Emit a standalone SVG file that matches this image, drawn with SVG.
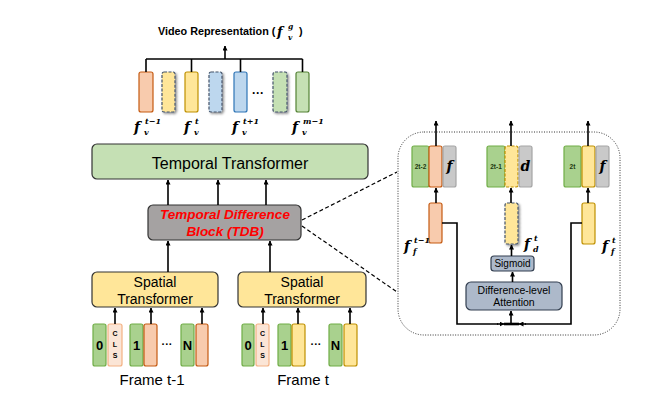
<svg xmlns="http://www.w3.org/2000/svg" width="669" height="403" viewBox="0 0 669 403">
<defs>
<marker id="ah" viewBox="0 0 10 10" refX="9" refY="5" markerWidth="5" markerHeight="5" orient="auto-start-reverse" markerUnits="userSpaceOnUse">
<path d="M0,0 L10,5 L0,10 z" fill="#000"/>
</marker>
<filter id="sh" x="-50%" y="-20%" width="200%" height="140%">
<feDropShadow dx="1.5" dy="1.5" stdDeviation="0.8" flood-color="#000" flood-opacity="0.45"/>
</filter>
<style>
text{font-family:"Liberation Sans",Arial,sans-serif;fill:#000}
.ln{stroke:#000;stroke-width:1.6;fill:none}
.ar{stroke:#000;stroke-width:1.6;fill:none;marker-end:url(#ah)}
.dash{stroke:#000;stroke-width:1.2;fill:none;stroke-dasharray:4 2.5}
.or{fill:#f8cbad;stroke:#c55a11;stroke-width:1.2}
.ye{fill:#ffe699;stroke:#bf9000;stroke-width:1.2}
.bl{fill:#bdd7ee;stroke:#2e75b6;stroke-width:1.2}
.gr{fill:#c5e0b4;stroke:#548235;stroke-width:1.2}
.gt{fill:#a9d18e;stroke:#70ad47;stroke-width:1.2}
.gy{fill:#c9c9c9;stroke:#a5a5a5;stroke-width:1.2}
.cls{fill:#fbe5d6;stroke:#f4b183;stroke-width:1.2}
.dsh{stroke:#44546a;stroke-dasharray:3 1.5;filter:url(#sh)}
.fm{font-family:"DejaVu Serif","Liberation Serif",serif;font-weight:bold;font-style:italic}
.tok{font-weight:bold;font-size:13px;text-anchor:middle}
.cl{font-weight:bold;font-size:7px;text-anchor:middle}
.sm{font-weight:bold;font-size:6.5px;text-anchor:middle;fill:#1e3a10}
</style>
</defs>
<rect width="669" height="403" fill="#fff"/>

<g id="title">
<text x="158" y="35" font-size="10.8" font-weight="bold">Video Representation (</text>
<text class="fm" x="277" y="36" font-size="13">f</text>
<text class="fm" x="288" y="29" font-size="7.5">g</text>
<text class="fm" x="288" y="39.5" font-size="7.5">v</text>
<text x="299" y="35" font-size="10.8" font-weight="bold">)</text>
</g>

<g id="video-features">
<rect class="or" x="139" y="72" width="14" height="40" rx="2"/>
<rect class="ye dsh" x="162" y="72" width="13" height="40" rx="2"/>
<rect class="ye" x="185" y="72" width="13" height="40" rx="2"/>
<rect class="bl dsh" x="209" y="72" width="13" height="40" rx="2"/>
<rect class="bl" x="234" y="72" width="13" height="40" rx="2"/>
<text x="258" y="97" font-size="12" text-anchor="middle" font-weight="bold">···</text>
<rect class="gr dsh" x="273" y="72" width="14" height="40" rx="2"/>
<rect class="gr" x="296" y="72" width="13" height="40" rx="2"/>
</g>

<g id="video-labels">
<text class="fm" x="134" y="132" font-size="14">f</text>
<text class="fm" x="145" y="124" font-size="8">t−1</text>
<text class="fm" x="144" y="135" font-size="8">v</text>
<text class="fm" x="184" y="132" font-size="14">f</text>
<text class="fm" x="195" y="124" font-size="8">t</text>
<text class="fm" x="194" y="135" font-size="8">v</text>
<text class="fm" x="232" y="132" font-size="14">f</text>
<text class="fm" x="243" y="124" font-size="8">t+1</text>
<text class="fm" x="242" y="135" font-size="8">v</text>
<text class="fm" x="292" y="132" font-size="14">f</text>
<text class="fm" x="303" y="124" font-size="8">m−1</text>
<text class="fm" x="302" y="135" font-size="8">v</text>
</g>

<g id="temporal-transformer">
<rect x="92" y="144" width="276" height="35" rx="5" fill="#c5e0b4" stroke="#333" stroke-width="1.2"/>
<text x="230" y="169" font-size="16" text-anchor="middle">Temporal Transformer</text>
</g>

<g id="tdb">
<rect x="148" y="205" width="153" height="35" rx="5" fill="#a5a2a2" stroke="#333" stroke-width="1.2"/>
<text x="225" y="219" font-size="13.5" font-weight="bold" font-style="italic" text-anchor="middle" style="fill:#ff0000">Temporal Difference</text>
<text x="225" y="235.5" font-size="13.5" font-weight="bold" font-style="italic" text-anchor="middle" style="fill:#ff0000">Block (TDB)</text>
</g>

<g id="spatial-left">
<rect x="92" y="272" width="126" height="35" rx="5" fill="#ffe699" stroke="#333" stroke-width="1.2"/>
<text x="155" y="287" font-size="14" text-anchor="middle">Spatial</text>
<text x="155" y="304" font-size="14" text-anchor="middle">Transformer</text>
</g>
<g id="spatial-right">
<rect x="238" y="272" width="128" height="35" rx="5" fill="#ffe699" stroke="#333" stroke-width="1.2"/>
<text x="302" y="287" font-size="14" text-anchor="middle">Spatial</text>
<text x="302" y="304" font-size="14" text-anchor="middle">Transformer</text>
</g>

<g id="frame-t-1">
<rect class="gt" x="93" y="324" width="13" height="42" rx="2"/>
<text class="tok" x="99.5" y="350">0</text>
<rect class="cls" x="108" y="324" width="14" height="42" rx="2"/>
<text class="cl" x="115" y="336">C</text>
<text class="cl" x="115" y="347">L</text>
<text class="cl" x="115" y="358">S</text>
<rect class="gt" x="130" y="324" width="13" height="42" rx="2"/>
<text class="tok" x="136.5" y="350">1</text>
<rect class="or" x="144" y="324" width="13" height="42" rx="2"/>
<text x="167" y="348" font-size="11" text-anchor="middle" font-weight="bold">···</text>
<rect class="gt" x="181" y="324" width="13" height="42" rx="2"/>
<text class="tok" x="187.5" y="350">N</text>
<rect class="or" x="196" y="324" width="12" height="42" rx="2"/>
<text x="152" y="385" font-size="15" text-anchor="middle">Frame t-1</text>
</g>

<g id="frame-t">
<rect class="gt" x="242" y="324" width="12" height="42" rx="2"/>
<text class="tok" x="248" y="350">0</text>
<rect class="cls" x="256" y="324" width="13" height="42" rx="2"/>
<text class="cl" x="262.5" y="336">C</text>
<text class="cl" x="262.5" y="347">L</text>
<text class="cl" x="262.5" y="358">S</text>
<rect class="gt" x="278" y="324" width="13" height="42" rx="2"/>
<text class="tok" x="284.5" y="350">1</text>
<rect class="ye" x="292" y="324" width="13" height="42" rx="2"/>
<text x="316" y="348" font-size="11" text-anchor="middle" font-weight="bold">···</text>
<rect class="gt" x="329" y="324" width="13" height="42" rx="2"/>
<text class="tok" x="335.5" y="350">N</text>
<rect class="ye" x="344" y="324" width="13" height="42" rx="2"/>
<text x="303" y="385" font-size="15" text-anchor="middle">Frame t</text>
</g>

<g id="tdb-panel">
<rect x="398" y="132" width="222" height="203" rx="26" fill="none" stroke="#333" stroke-width="1" stroke-dasharray="1 1.5"/>
</g>

<g id="out-group-1">
<rect class="gt" x="412" y="146" width="17" height="41" rx="2"/>
<text class="sm" x="420.5" y="169">2t-2</text>
<rect class="or" x="429" y="146" width="13" height="41" rx="2"/>
<rect class="gy" x="443" y="146" width="13" height="41" rx="2"/>
<text class="fm" x="449.5" y="171" font-size="14" text-anchor="middle">f</text>
</g>
<g id="out-group-2">
<rect class="gt" x="487" y="146" width="18" height="41" rx="2"/>
<text class="sm" x="496" y="169">2t-1</text>
<rect class="ye" x="505" y="146" width="13" height="41" rx="2" stroke-dasharray="3 1.5"/>
<rect class="gy" x="519" y="146" width="13" height="41" rx="2"/>
<text class="fm" x="525.5" y="171" font-size="14" text-anchor="middle">d</text>
</g>
<g id="out-group-3">
<rect class="gt" x="564" y="146" width="17" height="41" rx="2"/>
<text class="sm" x="572.5" y="169">2t</text>
<rect class="ye" x="582" y="146" width="13" height="41" rx="2"/>
<rect class="gy" x="596" y="146" width="13" height="41" rx="2"/>
<text class="fm" x="602.5" y="171" font-size="14" text-anchor="middle">f</text>
</g>

<g id="f-prev">
<rect class="or" x="429" y="203" width="13" height="40" rx="2"/>
<text class="fm" x="404" y="251" font-size="14">f</text>
<text class="fm" x="414" y="243" font-size="8">t−1</text>
<text class="fm" x="413" y="254" font-size="8">f</text>
</g>
<g id="f-diff">
<rect class="ye dsh" x="505" y="203" width="13" height="41" rx="2"/>
<text class="fm" x="524" y="249" font-size="14">f</text>
<text class="fm" x="534" y="241" font-size="8">t</text>
<text class="fm" x="533" y="252" font-size="8">d</text>
</g>
<g id="f-cur">
<rect class="ye" x="582" y="203" width="13" height="41" rx="2"/>
<text class="fm" x="602" y="251" font-size="14">f</text>
<text class="fm" x="612" y="243" font-size="8">t</text>
<text class="fm" x="611" y="254" font-size="8">f</text>
</g>

<g id="sigmoid">
<rect x="491" y="256" width="43" height="15" rx="3" fill="#adb9ca" stroke="#333f50" stroke-width="1.2"/>
<text x="512.5" y="267" font-size="10" text-anchor="middle">Sigmoid</text>
</g>
<g id="attention">
<rect x="466" y="282" width="96" height="28" rx="5" fill="#adb9ca" stroke="#333f50" stroke-width="1.2"/>
<text x="514" y="294" font-size="10.5" text-anchor="middle">Difference-level</text>
<text x="514" y="306" font-size="10.5" text-anchor="middle">Attention</text>
</g>

<g id="connectors">
<line class="ln" x1="146" y1="59" x2="302.5" y2="59"/>
<line class="ln" x1="146" y1="72" x2="146" y2="59"/>
<line class="ln" x1="191.5" y1="72" x2="191.5" y2="59"/>
<line class="ln" x1="240.5" y1="72" x2="240.5" y2="59"/>
<line class="ln" x1="302.5" y1="72" x2="302.5" y2="59"/>
<line class="ar" x1="225" y1="59" x2="225" y2="46"/>
<line class="ar" x1="168" y1="205" x2="168" y2="180"/>
<line class="ar" x1="218" y1="205" x2="218" y2="180"/>
<line class="ar" x1="266" y1="205" x2="266" y2="180"/>
<line class="ar" x1="168" y1="272" x2="168" y2="241"/>
<line class="ar" x1="270" y1="272" x2="270" y2="241"/>
<line class="ar" x1="115" y1="324" x2="115" y2="308"/>
<line class="ar" x1="151" y1="324" x2="151" y2="308"/>
<line class="ar" x1="202" y1="324" x2="202" y2="308"/>
<line class="ar" x1="263" y1="324" x2="263" y2="308"/>
<line class="ar" x1="298" y1="324" x2="298" y2="308"/>
<line class="ar" x1="350" y1="324" x2="350" y2="308"/>
<line class="dash" x1="302" y1="220" x2="397" y2="172"/>
<line class="dash" x1="302" y1="226" x2="397" y2="292"/>
<line class="ar" x1="436" y1="146" x2="436" y2="121"/>
<line class="ar" x1="511" y1="146" x2="511" y2="121"/>
<line class="ar" x1="588" y1="146" x2="588" y2="121"/>
<line class="ar" x1="436" y1="203" x2="436" y2="188"/>
<line class="ar" x1="511" y1="203" x2="511" y2="188"/>
<line class="ar" x1="588" y1="203" x2="588" y2="188"/>
<polyline class="ln" points="442,223 457,223 457,324 498,324"/>
<line class="ar" x1="497" y1="324" x2="504" y2="324"/>
<polyline class="ln" points="582,223 571,223 571,324 525,324"/>
<line class="ar" x1="526" y1="324" x2="519" y2="324"/>
<line x1="504" y1="324" x2="519" y2="324" stroke="#000" stroke-width="2.6"/>
<line class="ar" x1="511" y1="324" x2="511" y2="311"/>
<line class="ar" x1="512.5" y1="282" x2="512.5" y2="272"/>
<line class="ar" x1="511.5" y1="256" x2="511.5" y2="245"/>
</g>
</svg>
